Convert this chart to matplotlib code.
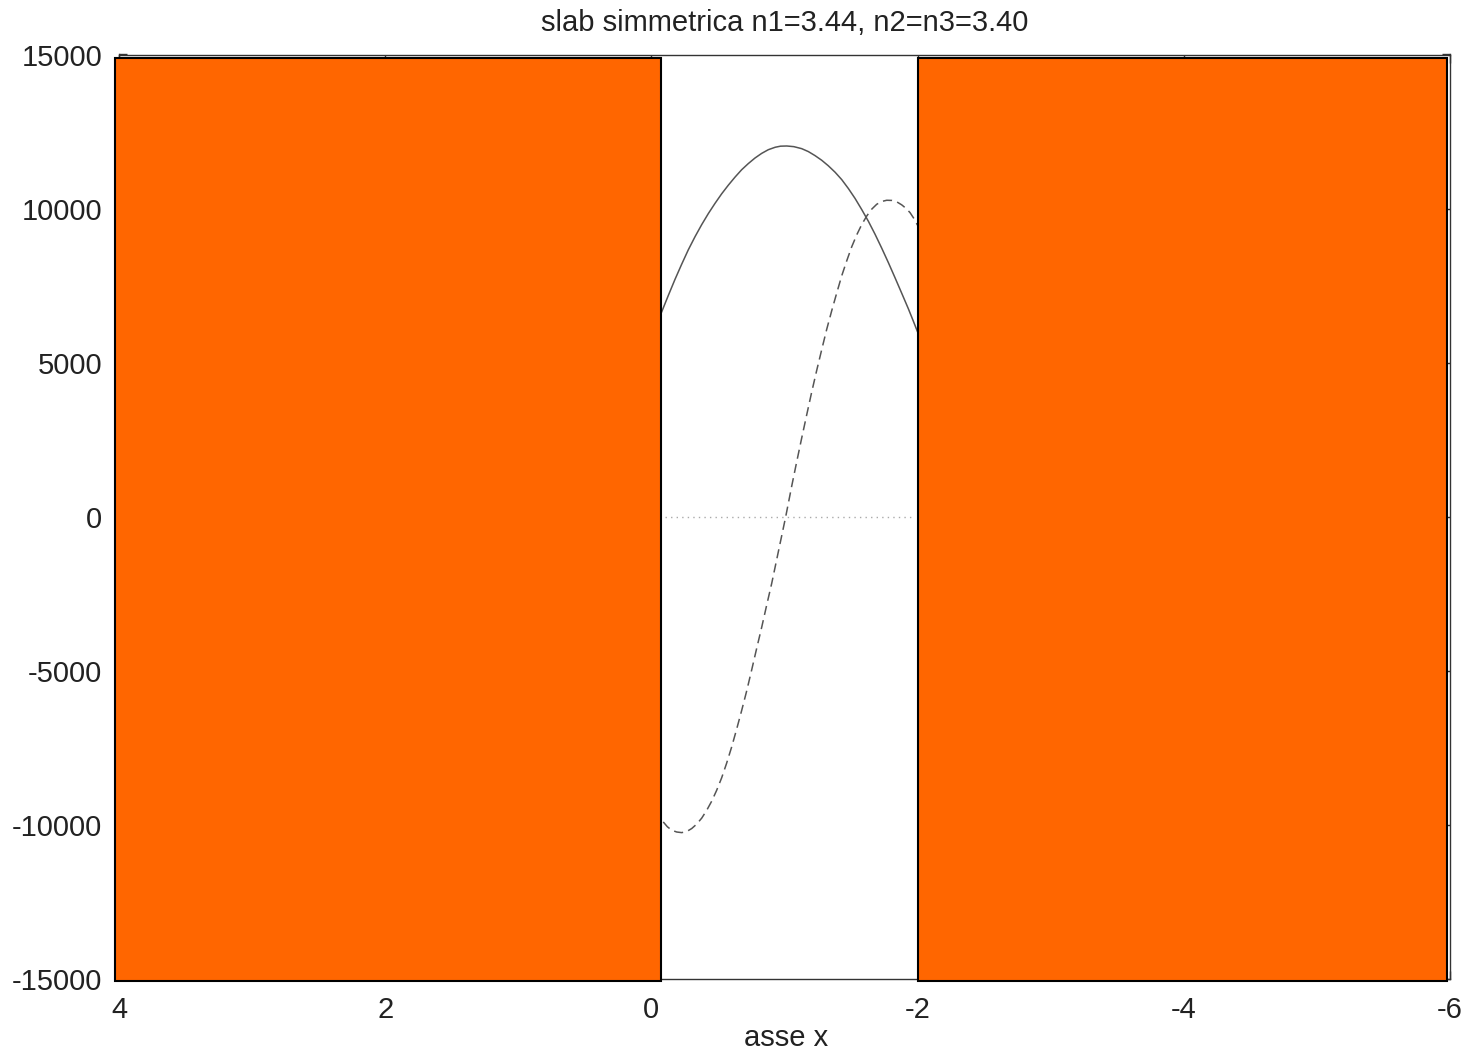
import numpy as np
import matplotlib
matplotlib.use('Agg')
import matplotlib.pyplot as plt
from matplotlib.patches import Rectangle

plt.rcParams['font.family'] = ['Liberation Sans', 'DejaVu Sans']

# modo pari (linea continua)
x_pari = [-0.077, -0.127, -0.177, -0.227, -0.277, -0.328, -0.378, -0.428, -0.478, -0.528,
          -0.578, -0.628, -0.678, -0.728, -0.778, -0.828, -0.878, -0.93, -0.97, -1.017,
          -1.07, -1.129, -1.179, -1.229, -1.279, -1.329, -1.380, -1.430, -1.480, -1.530,
          -1.580, -1.630, -1.680, -1.730, -1.780, -1.830, -1.880, -1.930, -1.965, -2.000]
y_pari = [6645, 7180, 7700, 8190, 8660, 9090, 9480, 9840, 10170, 10480,
          10760, 11020, 11260, 11460, 11640, 11790, 11910, 11990, 12025, 12031,
          12010, 11945, 11850, 11720, 11570, 11390, 11180, 10940, 10650, 10330,
          9970, 9590, 9170, 8720, 8250, 7760, 7260, 6755, 6380, 5996]

# modo dispari (tratteggiato)
x_disp = [-0.089, -0.120, -0.153, -0.190, -0.228, -0.265, -0.303, -0.340, -0.378, -0.415,
          -0.453, -0.490, -0.528, -0.565, -0.603, -0.640, -0.678, -0.716, -0.754, -0.791,
          -0.829, -0.866, -0.904, -0.953, -1.009, -1.054, -1.092, -1.129, -1.167, -1.204,
          -1.242, -1.280, -1.317, -1.355, -1.393, -1.430, -1.468, -1.505, -1.543, -1.580,
          -1.618, -1.655, -1.693, -1.730, -1.768, -1.805, -1.843, -1.881, -1.912, -1.943,
          -1.972, -2.000]
y_disp = [-9903, -10060, -10172, -10230, -10250, -10215, -10117, -9975, -9780, -9530,
          -9230, -8880, -8470, -8000, -7470, -6900, -6290, -5650, -4960, -4270,
          -3580, -2870, -2160, -1150, 0, 990, 1790, 2550, 3310, 4040,
          4750, 5430, 6080, 6690, 7270, 7820, 8310, 8760, 9150, 9480,
          9760, 9980, 10140, 10230, 10270, 10265, 10220, 10120, 10010, 9870,
          9680, 9458]

# linea dello zero
x_zero = [-0.10, -1.98]
y_zero = [0, 0]

# regioni di cladding (rettangoli arancioni)
clad_x0 = [4.03, -2.00]
clad_x1 = [-0.07, -5.977]
clad_y0 = -15070
clad_y1 = 14877

xticks = [4, 2, 0, -2, -4, -6]
yticks = [15000, 10000, 5000, 0, -5000, -10000, -15000]

fig = plt.figure(figsize=(14.72, 10.5), dpi=100)
ax = fig.add_axes([119/1472, 1-979/1050, (1450-119)/1472, (979-54.5)/1050])

ax.plot(x_pari, y_pari, color='#555555', lw=1.1)
ax.plot(x_disp, y_disp, color='#555555', lw=1.1, linestyle=(0, (6, 3.5)))
ax.plot(x_zero, y_zero, color='#aaaaaa', lw=1.0, linestyle=(0, (1, 3)))

for a, b in zip(clad_x0, clad_x1):
    r = Rectangle((a, clad_y0), b - a, clad_y1 - clad_y0, facecolor='#ff6600',
                  edgecolor='black', lw=1.5, zorder=3, clip_on=False)
    ax.add_patch(r)

ax.set_xlim(4, -6)
ax.set_ylim(-15000, 15000)
ax.set_xticks(xticks)
ax.set_yticks(yticks)
ax.set_xticklabels([str(t) for t in xticks])
ax.set_yticklabels([str(t) for t in yticks])
ax.tick_params(direction='in', length=6, width=1, color='#333333', top=True, right=True,
               labelsize=21, labelcolor='#222222')
ax.tick_params(axis='y', pad=12)
ax.tick_params(axis='x', pad=12)
for s in ax.spines.values():
    s.set_color('#333333')
    s.set_linewidth(1.0)

ax.set_title('slab simmetrica n1=3.44, n2=n3=3.40', fontsize=21, color='#222222', pad=17)
fig.text(786/1472, 1-1046/1050, 'asse x', fontsize=21, color='#222222',
         ha='center', va='baseline')

fig.savefig('out.png', dpi=100)
